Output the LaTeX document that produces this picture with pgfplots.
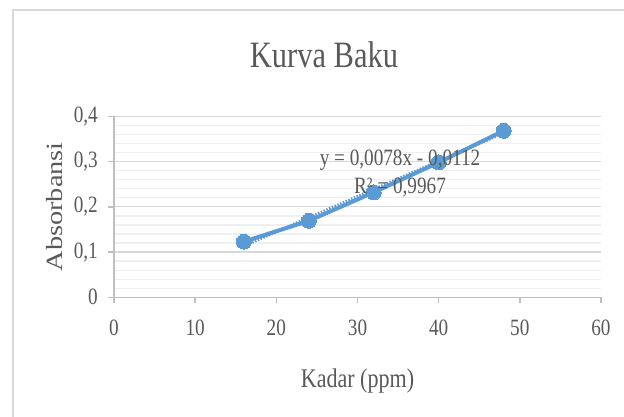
\documentclass[border=0pt]{standalone}
\usepackage{fontspec}
\setmainfont{Liberation Serif}[FakeStretch=0.82]
\newfontfamily\ylfont{Liberation Serif}
\usepackage{pgfplots}
\pgfplotsset{compat=1.18}
\definecolor{txt}{HTML}{595959}
\definecolor{ser}{HTML}{5B9BD5}
\definecolor{axl}{HTML}{BFBFBF}
\definecolor{majg}{HTML}{D9D9D9}
\definecolor{ming}{HTML}{EFEFEF}
\begin{document}
\begin{tikzpicture}
\draw[majg, line width=2bp] (13bp,-440bp) -- (13bp,-10bp) -- (660bp,-10bp);
\begin{axis}[
  at={(114bp,-297.3bp)}, anchor=south west,
  scale only axis, width=487bp, height=181bp,
  xmin=0, xmax=60, ymin=0, ymax=0.4,
  xtick={0,10,20,30,40,50,60},
  ytick={0,0.1,0.2,0.3,0.4},
  minor y tick num=4,
  axis lines*=left,
  axis line style={axl, line width=1.5bp},
  tick style={axl, line width=1.5bp},
  tick align=outside,
  major tick length=6bp,
  minor tick length=0pt,
  ymajorgrids, yminorgrids,
  major grid style={majg, line width=1.3bp},
  minor grid style={ming, line width=1.3bp},
  /pgf/number format/assume math mode=true,
  /pgf/number format/use comma,
  /pgf/number format/fixed,
  /pgf/number format/precision=1,
  tick label style={font=\fontsize{23.5}{25}\selectfont, text=txt},
  yticklabel style={anchor=east, inner sep=0pt, xshift=-10bp},
  xticklabel style={anchor=north, inner sep=0pt, yshift=-16bp},
  xlabel={Kadar (ppm)},
  xlabel style={font=\fontsize{27}{30}\selectfont, text=txt, at={(axis description cs:0.5,-0.4624)}, anchor=center, inner sep=0pt},
  ylabel={\scalebox{1}[0.82]{\ylfont\fontsize{28.5}{30}\selectfont Absorbansi}},
  ylabel style={text=txt, at={(axis description cs:-0.1211,0.5)}, anchor=center, inner sep=0pt, rotate=0},
  clip=false,
]
\addplot[ser, line width=3bp, dash pattern=on 1.5bp off 1.5bp] coordinates {(16,0.1136) (48,0.3632)};
\addplot[ser, line width=4bp, mark=*, mark size=7.5bp, mark options={fill=ser, draw=ser, line width=0pt, solid}]
  coordinates {(16,0.123) (24,0.169) (32,0.232) (40,0.298) (48,0.368)};
\end{axis}
\node[text=txt, anchor=base, inner sep=0pt, font=\fontsize{37.3}{40}\selectfont] at (324bp,-67bp) {Kurva Baku};
\node[text=txt, anchor=base, inner sep=0pt, font=\fontsize{23.5}{25}\selectfont] at (400bp,-165bp) {y = 0,0078x - 0,0112};
\node[text=txt, anchor=base, inner sep=0pt, font=\fontsize{23.5}{25}\selectfont] at (400bp,-193bp) {R² = 0,9967};
\pgfresetboundingbox
\path[use as bounding box] (0,0) rectangle (624bp,-417bp);
\end{tikzpicture}
\end{document}
